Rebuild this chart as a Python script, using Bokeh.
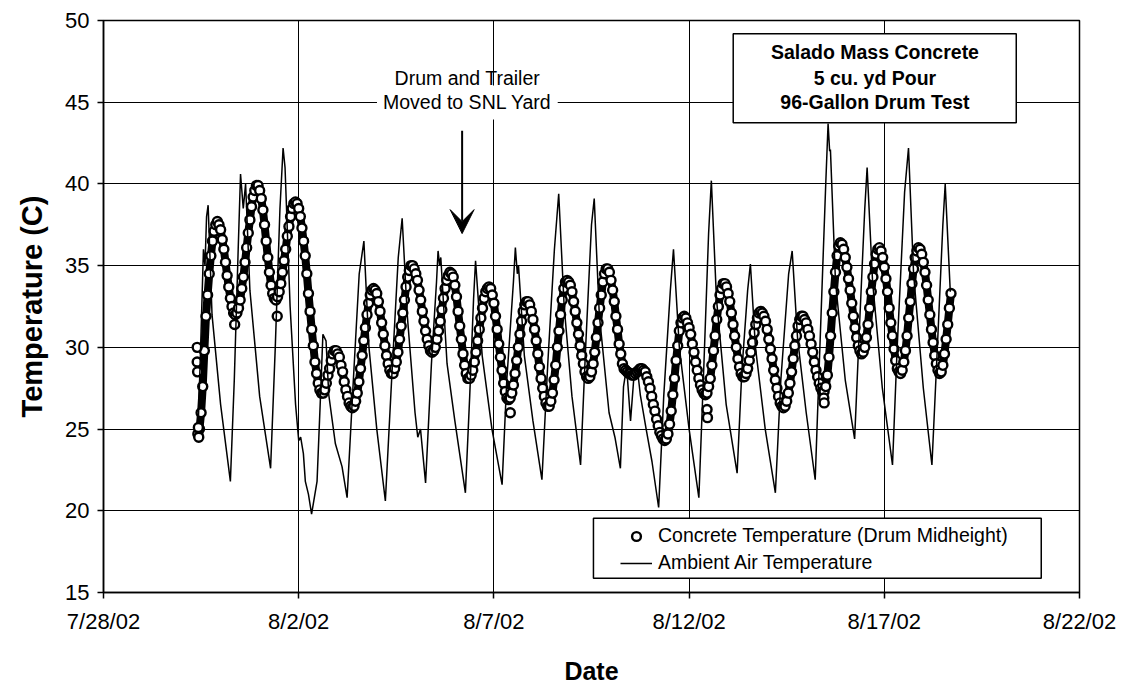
import pandas as pd
from bokeh.plotting import figure
from bokeh.models import (Range1d, FixedTicker, Legend, LegendItem, BoxAnnotation,
                          Label, Arrow, VeeHead, ColumnDataSource)
from bokeh.embed import file_html
from bokeh.resources import INLINE

# ---------------- data ----------------
BASE = pd.Timestamp("2002-07-28")

tick_labels = ["7/28/02", "8/2/02", "8/7/02", "8/12/02", "8/17/02", "8/22/02"]
tick_dates = ["2002-07-28", "2002-08-02", "2002-08-07", "2002-08-12", "2002-08-17", "2002-08-22"]
y_ticks = [15, 20, 25, 30, 35, 40, 45, 50]

# Concrete temperature (drum midheight), hourly readings from 7/30/02 10:00
conc_start = "2002-07-30 10:00"
conc_hourly = [
    24.7, 25.0, 26.0, 27.6, 29.8, 31.9, 33.2, 34.5, 35.6, 36.5, 37.1, 37.5, 37.7,
    37.5, 37.2, 36.6, 36.0, 35.2, 34.4, 33.7, 33.0, 32.5, 32.1, 32.0,
    32.1, 32.4, 32.9, 33.6, 34.3, 35.2, 36.1, 37.0, 37.8, 38.6, 39.2, 39.6, 39.9,
    39.9, 39.6, 39.1, 38.4, 37.5, 36.5, 35.5, 34.6, 33.8, 33.3, 33.0,
    32.9, 33.1, 33.4, 33.9, 34.6, 35.3, 36.0, 36.8, 37.4, 38.0, 38.5, 38.8, 38.9,
    38.8, 38.5, 38.0, 37.3, 36.5, 35.6, 34.5, 33.3, 32.2, 31.1, 30.1, 29.1, 28.4, 27.8, 27.4, 27.2,
    27.2, 27.4, 27.8, 28.3, 28.7, 29.2, 29.6, 29.8,
    29.8, 29.6, 29.4, 28.9, 28.5, 27.9, 27.4, 27.0, 26.6, 26.4,
    26.3, 26.4, 26.7, 27.2, 27.9, 28.7, 29.5, 30.4, 31.2, 32.0, 32.7, 33.2, 33.5, 33.6,
    33.5, 33.3, 32.8, 32.2, 31.5, 30.8, 30.1, 29.5, 29.0, 28.6, 28.4,
    28.4, 28.7, 29.1, 29.7, 30.5, 31.3, 32.1, 32.9, 33.7, 34.3, 34.7, 35.0,
    35.0, 34.8, 34.5, 34.1, 33.5, 32.9, 32.2, 31.6, 31.0, 30.5, 30.1, 29.8, 29.7,
    29.8, 30.0, 30.5, 31.0, 31.6, 32.3, 33.0, 33.6, 34.1, 34.4, 34.6,
    34.5, 34.3, 33.8, 33.1, 32.2, 31.3, 30.5, 29.6, 28.9, 28.4, 28.1,
    28.1, 28.3, 28.6, 29.1, 29.7, 30.4, 31.1, 31.8, 32.4, 33.0, 33.4, 33.6,
    33.7, 33.6, 33.2, 32.7, 31.9, 31.1, 30.2, 29.4, 28.6, 27.8, 27.3, 26.9, 26.8,
    26.9, 27.2, 27.7, 28.4, 29.2, 30.0, 30.8, 31.6, 32.2, 32.6, 32.8,
    32.8, 32.6, 32.2, 31.7, 31.1, 30.4, 29.6, 28.8, 28.1, 27.5, 27.0, 26.6, 26.4,
    26.4, 26.7, 27.2, 28.0, 28.9, 30.0, 31.0, 32.0, 32.9, 33.6, 34.0, 34.1,
    34.0, 33.8, 33.4, 32.8, 32.2, 31.5, 30.8, 30.1, 29.5, 29.0, 28.5, 28.2, 28.1,
    28.2, 28.5, 29.0, 29.7, 30.6, 31.5, 32.4, 33.2, 34.0, 34.5, 34.8,
    34.8, 34.6, 34.1, 33.5, 32.8, 31.9, 31.1, 30.2, 29.6, 29.0, 28.7, 28.6,
    28.5, 28.4, 28.4, 28.3, 28.3, 28.4, 28.5, 28.6, 28.7, 28.7,
    28.6, 28.5, 28.2, 27.9, 27.5, 27.0, 26.5, 26.1, 25.6, 25.2, 24.8, 24.6, 24.4, 24.3,
    24.4, 24.7, 25.3, 26.1, 27.1, 28.1, 29.2, 30.1, 31.0, 31.5, 31.8,
    31.9, 31.8, 31.5, 31.2, 30.8, 30.2, 29.7, 29.1, 28.6, 28.1, 27.7, 27.4, 27.2, 27.1,
    27.2, 27.6, 28.1, 28.9, 29.8, 30.7, 31.7, 32.5, 33.2, 33.6, 33.9,
    33.9, 33.7, 33.3, 32.8, 32.1, 31.4, 30.7, 30.0, 29.3, 28.8, 28.4, 28.2,
    28.2, 28.4, 28.7, 29.2, 29.7, 30.3, 30.9, 31.4, 31.8, 32.1, 32.2,
    32.1, 31.9, 31.6, 31.1, 30.5, 29.9, 29.3, 28.6, 28.0, 27.5, 27.0, 26.6, 26.4, 26.3,
    26.4, 26.7, 27.2, 27.8, 28.5, 29.3, 30.1, 30.7, 31.3, 31.7, 31.9,
    31.9, 31.7, 31.5, 31.1, 30.7, 30.2, 29.7, 29.1, 28.6, 28.2, 27.8, 27.5, 27.3,
    27.3, 27.6, 28.3, 29.4, 30.7, 32.1, 33.4, 34.6, 35.6, 36.2, 36.4,
    36.3, 36.0, 35.5, 34.9, 34.2, 33.5, 32.7, 31.9, 31.2, 30.6, 30.1, 29.8, 29.6,
    29.7, 30.0, 30.6, 31.4, 32.4, 33.4, 34.3, 35.1, 35.7, 36.0,
    36.1, 35.9, 35.5, 34.9, 34.2, 33.4, 32.4, 31.5, 30.7, 29.9, 29.2, 28.7, 28.5,
    28.4, 28.6, 29.1, 29.8, 30.7, 31.8, 32.8, 33.9, 34.8, 35.5, 35.9, 36.1,
    36.0, 35.7, 35.2, 34.6, 33.8, 32.9, 32.0, 31.1, 30.3, 29.5, 29.0, 28.6, 28.4,
    28.5, 28.9, 29.6, 30.5, 31.4, 32.4, 33.3,
]
# isolated concrete readings (days after 7/28/02 00:00)
conc_extra_day = [2.40, 2.40, 2.41, 2.43, 2.44, 3.36, 4.45, 10.42, 15.46, 15.47, 18.45, 18.46]
conc_extra_temp = [30.0, 29.1, 28.5, 25.1, 24.5, 31.4, 31.9, 26.0, 26.2, 25.7, 26.9, 26.6]

# Ambient air temperature (days after 7/28/02 00:00, deg C)
amb_day = [
    2.43, 2.50, 2.56, 2.60, 2.64, 2.68, 2.78, 3.00, 3.25,
    3.35, 3.45, 3.51, 3.58, 3.64, 3.75, 4.00, 4.28,
    4.40, 4.52, 4.60, 4.65, 4.78, 4.92, 5.00, 5.05, 5.12, 5.17, 5.25, 5.33,
    5.47, 5.56, 5.62, 5.70, 5.77, 5.94, 6.11, 6.24,
    6.40, 6.55, 6.67, 6.80, 7.00, 7.22,
    7.38, 7.55, 7.65, 7.78, 7.98, 8.05, 8.12, 8.25,
    8.40, 8.53, 8.57, 8.61, 8.64, 8.80, 9.00, 9.27,
    9.38, 9.48, 9.53, 9.70, 9.95, 10.21,
    10.33, 10.50, 10.55, 10.60, 10.63, 10.78, 11.00, 11.23,
    11.38, 11.55, 11.66, 11.80, 12.00, 12.22,
    12.35, 12.50, 12.57, 12.70, 12.95, 13.10, 13.24,
    13.32, 13.40, 13.50, 13.58, 13.67, 13.75, 13.90, 14.05, 14.22,
    14.35, 14.52, 14.60, 14.75, 15.00, 15.25,
    15.38, 15.50, 15.57, 15.70, 15.95, 16.23,
    16.35, 16.50, 16.57, 16.70, 16.95, 17.21,
    17.35, 17.55, 17.64, 17.78, 18.00, 18.23,
    18.35, 18.50, 18.56, 18.60, 18.62, 18.75, 19.00, 19.24,
    19.35, 19.50, 19.56, 19.70, 19.95, 20.21,
    20.33, 20.52, 20.62, 20.75, 21.00, 21.22,
    21.35, 21.50, 21.56, 21.69,
]
amb_temp = [
    25.5, 31.0, 36.0, 35.0, 38.0, 38.7, 32.0, 26.5, 21.8,
    28.0, 36.0, 40.6, 38.5, 40.0, 33.5, 27.0, 22.6,
    30.0, 38.5, 42.2, 41.0, 32.5, 26.5, 24.3, 24.5, 23.5, 21.8, 21.0, 19.8,
    21.8, 27.1, 30.8, 30.4, 27.1, 24.1, 22.7, 20.8,
    28.0, 34.5, 36.5, 30.0, 25.0, 20.6,
    28.0, 35.5, 37.9, 32.0, 26.0, 24.5, 25.0, 21.7,
    29.0, 34.0, 35.9, 35.0, 35.5, 29.0, 25.5, 21.1,
    27.0, 33.0, 35.3, 29.5, 25.0, 21.6,
    28.0, 34.0, 36.1, 34.5, 35.0, 29.5, 25.5, 21.9,
    29.0, 36.0, 39.4, 32.5, 27.0, 22.8,
    30.0, 37.5, 39.1, 32.0, 26.0, 24.5, 22.6,
    27.6, 28.8, 25.5, 28.0, 28.8, 27.1, 25.0, 23.0, 20.2,
    27.0, 33.5, 36.0, 30.0, 25.0, 20.8,
    29.0, 37.0, 40.2, 33.0, 26.5, 22.3,
    28.5, 33.5, 35.1, 30.0, 25.0, 21.1,
    28.0, 34.5, 35.9, 30.5, 26.0, 21.9,
    30.0, 40.0, 43.7, 42.0, 42.1, 34.0, 28.0, 24.4,
    30.5, 38.5, 41.0, 34.0, 27.5, 22.8,
    30.0, 39.5, 42.2, 34.5, 27.5, 22.8,
    29.5, 37.5, 40.0, 33.4,
]

# ---------------- helpers ----------------
def ms(ts):
    return int(pd.Timestamp(ts).value // 10**6)

def day_ms(d):
    return ms(BASE + pd.Timedelta(days=d))

FONT = "Liberation Sans"

hourly_t = list(pd.date_range(conc_start, periods=len(conc_hourly), freq="h").values)
extra_t = list(pd.DatetimeIndex([BASE + pd.Timedelta(days=d) for d in conc_extra_day]).values)
src_band = ColumnDataSource(dict(t=hourly_t, v=conc_hourly))
src_conc = ColumnDataSource(dict(t=hourly_t + extra_t, v=conc_hourly + conc_extra_temp))
src_amb = ColumnDataSource(dict(
    t=pd.DatetimeIndex([BASE + pd.Timedelta(days=d) for d in amb_day]).values, v=amb_temp))

tick_ms = [ms(t) for t in tick_dates]

p = figure(width=1127, height=695, x_axis_type="datetime", output_backend="svg",
           toolbar_location=None,
           x_range=Range1d(tick_ms[0], tick_ms[-1]), y_range=Range1d(y_ticks[0], y_ticks[-1]),
           min_border_left=103, min_border_right=48, min_border_top=20, min_border_bottom=103)
p.background_fill_color = "white"
p.border_fill_color = "white"
p.outline_line_color = "black"
p.outline_line_width = 1.5

p.xaxis.ticker = FixedTicker(ticks=tick_ms)
p.xaxis.major_label_overrides = {t: lab for t, lab in zip(tick_ms, tick_labels)}
p.yaxis.ticker = FixedTicker(ticks=y_ticks)
p.xgrid.ticker = FixedTicker(ticks=tick_ms)
p.ygrid.ticker = FixedTicker(ticks=y_ticks)
p.grid.grid_line_color = "black"
p.grid.grid_line_width = 1

for ax in (p.xaxis[0], p.yaxis[0]):
    ax.axis_line_color = "black"
    ax.axis_line_width = 1.5
    ax.major_tick_line_color = "black"
    ax.major_tick_line_width = 1.5
    ax.major_tick_out = 6
    ax.major_tick_in = 0
    ax.minor_tick_line_color = None
    ax.major_label_text_font = FONT
    ax.major_label_text_font_size = "22px"
    ax.major_label_text_color = "black"
    ax.axis_label_text_font = FONT
    ax.axis_label_text_font_style = "bold"
    ax.axis_label_text_color = "black"
p.xaxis.axis_label = "Date"
p.yaxis.axis_label = "Temperature (C)"
p.xaxis.axis_label_text_font_size = "25px"
p.yaxis.axis_label_text_font_size = "29px"
p.xaxis.major_label_standoff = 10
p.yaxis.major_label_standoff = 8
p.xaxis.axis_label_standoff = 20
p.yaxis.axis_label_standoff = 14

# dense chain of concrete readings: dark band under the hourly circles
p.line(x="t", y="v", source=src_band, line_color="black", line_width=8, line_join="round")
r_conc = p.scatter(x="t", y="v", source=src_conc, marker="circle", size=9,
                   fill_color="white", line_color="black", line_width=2.4)
r_amb = p.line(x="t", y="v", source=src_amb, line_color="black", line_width=1.5)

# legend frame (white box) and legend
p.add_layout(BoxAnnotation(left=day_ms(12.55), right=day_ms(24.02), bottom=15.87, top=19.54,
                           fill_color="white", fill_alpha=1.0, line_color="black",
                           line_width=1.5, line_alpha=1.0))
legend = Legend(items=[LegendItem(label="Concrete Temperature (Drum Midheight)", renderers=[r_conc]),
                       LegendItem(label="Ambient Air Temperature", renderers=[r_amb])],
                location=(513, 12), orientation="vertical", padding=4, spacing=0,
                glyph_width=32, glyph_height=22, label_height=27, label_standoff=6,
                label_text_font=FONT, label_text_font_size="19.5px", label_text_color="black",
                border_line_alpha=0, background_fill_alpha=0)
p.add_layout(legend)

# title box
p.add_layout(BoxAnnotation(left=day_ms(16.13), right=day_ms(23.38), bottom=43.75, top=49.19,
                           fill_color="white", fill_alpha=1.0, line_color="black",
                           line_width=1.5, line_alpha=1.0))
for txt, yy in [("Salado Mass Concrete", 48.07), ("5 cu. yd Pour", 46.48),
                ("96-Gallon Drum Test", 44.99)]:
    p.add_layout(Label(x=day_ms(19.76), y=yy, text=txt, text_align="center",
                       text_baseline="middle", text_font=FONT, text_font_style="bold",
                       text_font_size="19.5px", text_color="black"))

# move annotation (second line first so the first line is drawn on top)
p.add_layout(Label(x=day_ms(9.32), y=44.99, text="Moved to SNL Yard", text_align="center",
                   text_baseline="middle", text_font=FONT, text_font_size="19.5px",
                   text_color="black", background_fill_color="white",
                   background_fill_alpha=1.0, padding=6))
p.add_layout(Label(x=day_ms(9.32), y=46.50, text="Drum and Trailer", text_align="center",
                   text_baseline="middle", text_font=FONT, text_font_size="19.5px",
                   text_color="black"))
p.add_layout(Arrow(end=VeeHead(size=24, fill_color="black", line_color="black"),
                   x_start=day_ms(9.186), y_start=43.26, x_end=day_ms(9.186), y_end=36.96,
                   line_color="black", line_width=2))

open("out.html", "w").write(file_html(p, INLINE))
